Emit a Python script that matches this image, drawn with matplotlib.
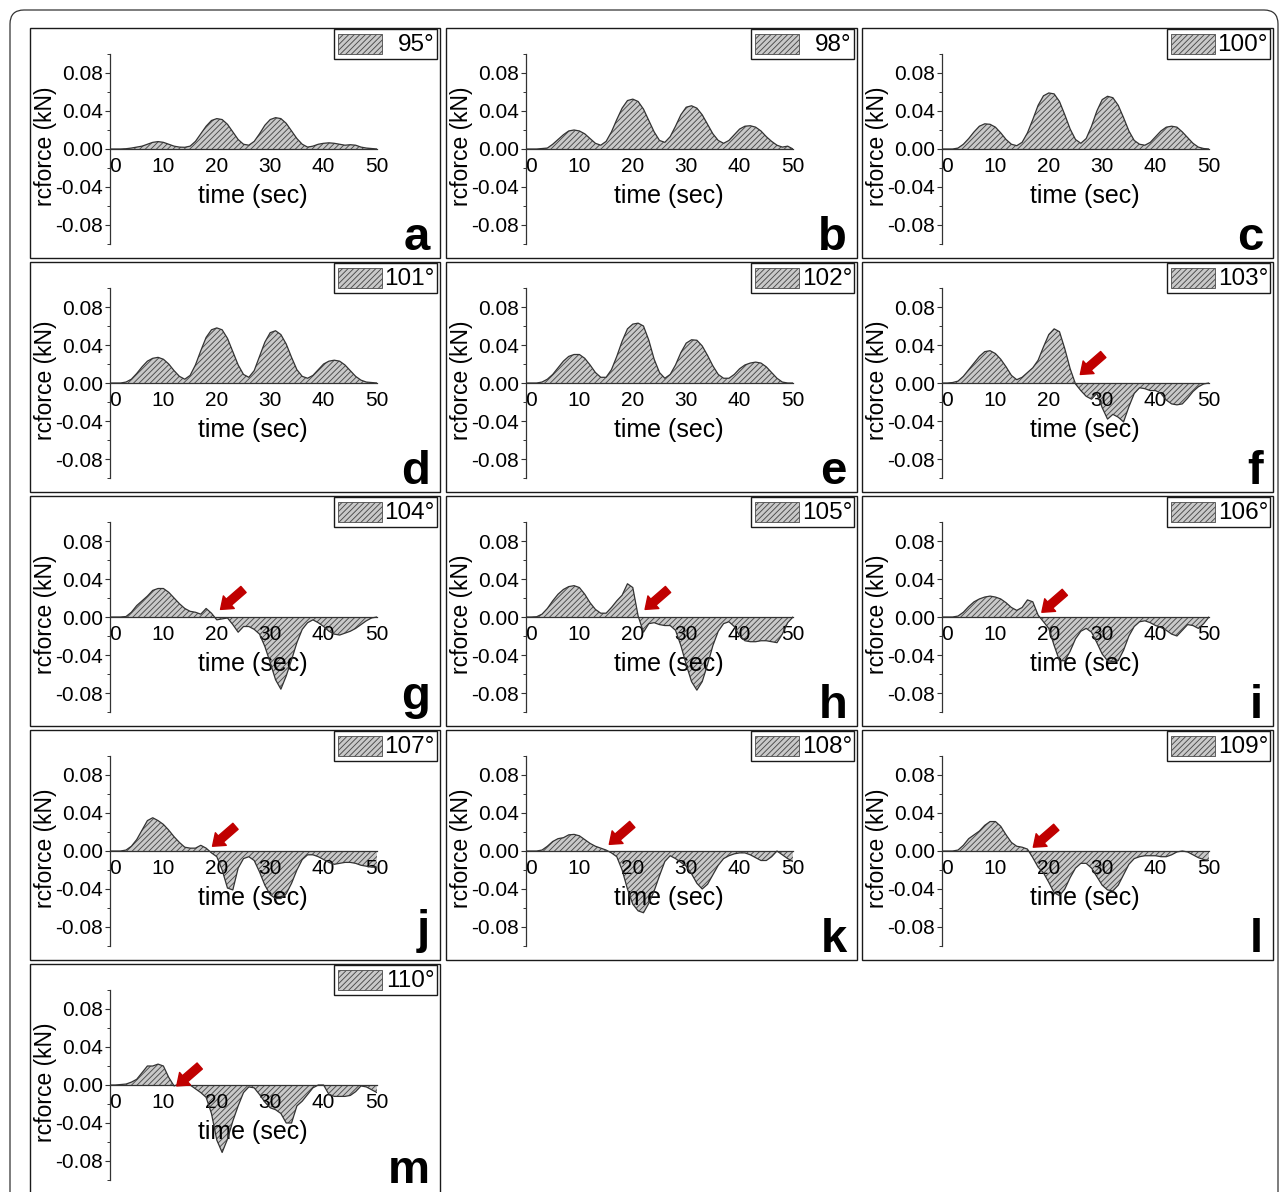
import matplotlib
matplotlib.use("Agg")
import matplotlib.pyplot as plt
from matplotlib.patches import Rectangle, FancyBboxPatch
from matplotlib.ticker import FormatStrFormatter
import matplotlib.transforms as mtransforms

plt.rcParams['font.family'] = ['Liberation Sans', 'DejaVu Sans']
plt.rcParams['axes.unicode_minus'] = False
plt.rcParams['hatch.linewidth'] = 0.65

# ---------------- data ----------------
time_sec = list(range(51))

force_95 = [0, 0, 0, 0.0003, 0.001, 0.002, 0.003, 0.005, 0.007, 0.0078,
            0.007, 0.005, 0.003, 0.002, 0.0018, 0.003, 0.008, 0.016, 0.024, 0.030,
            0.032, 0.031, 0.026, 0.018, 0.010, 0.005, 0.004, 0.008, 0.016, 0.025,
            0.031, 0.033, 0.032, 0.027, 0.019, 0.011, 0.005, 0.002, 0.003, 0.005,
            0.006, 0.0065, 0.006, 0.005, 0.004, 0.0045, 0.004, 0.002, 0.001, 0.0005,
            0]
force_98 = [0, 0, 0, 0.0005, 0.001, 0.005, 0.010, 0.015, 0.019, 0.020,
            0.019, 0.016, 0.011, 0.006, 0.004, 0.008, 0.018, 0.031, 0.043, 0.051,
            0.0525, 0.050, 0.042, 0.030, 0.018, 0.009, 0.007, 0.013, 0.024, 0.036,
            0.044, 0.0455, 0.043, 0.036, 0.026, 0.016, 0.009, 0.006, 0.009, 0.015,
            0.021, 0.024, 0.0245, 0.023, 0.019, 0.013, 0.008, 0.004, 0.002, 0.003,
            0]
force_100 = [0, 0, 0, 0.001, 0.005, 0.011, 0.018, 0.024, 0.0265, 0.026,
             0.023, 0.017, 0.010, 0.005, 0.0035, 0.007, 0.017, 0.031, 0.046, 0.056,
             0.059, 0.058, 0.050, 0.036, 0.021, 0.010, 0.006, 0.011, 0.024, 0.040,
             0.052, 0.0555, 0.054, 0.046, 0.033, 0.019, 0.009, 0.005, 0.004, 0.007,
             0.013, 0.019, 0.023, 0.024, 0.023, 0.018, 0.012, 0.006, 0.002, 0.0005,
             0]
force_101 = [0, 0, 0, 0.001, 0.004, 0.010, 0.017, 0.023, 0.026, 0.027,
             0.025, 0.020, 0.013, 0.007, 0.004, 0.008, 0.019, 0.034, 0.048, 0.056,
             0.058, 0.056, 0.047, 0.033, 0.019, 0.009, 0.006, 0.013, 0.028, 0.043,
             0.053, 0.055, 0.051, 0.041, 0.027, 0.014, 0.007, 0.005, 0.008, 0.014,
             0.020, 0.023, 0.024, 0.023, 0.019, 0.013, 0.007, 0.003, 0.001, 0.0005,
             0]
force_102 = [0, 0, 0, 0.001, 0.004, 0.009, 0.016, 0.023, 0.028, 0.030,
             0.030, 0.026, 0.019, 0.011, 0.006, 0.006, 0.014, 0.028, 0.044, 0.057,
             0.062, 0.063, 0.060, 0.045, 0.025, 0.011, 0.005, 0.009, 0.019, 0.032,
             0.042, 0.0455, 0.045, 0.039, 0.029, 0.018, 0.009, 0.005, 0.005, 0.009,
             0.015, 0.019, 0.021, 0.022, 0.021, 0.017, 0.011, 0.005, 0.001, 0,
             0]
force_103 = [0, 0, 0.0005, 0.002, 0.007, 0.014, 0.021, 0.028, 0.033, 0.034,
             0.031, 0.025, 0.017, 0.008, 0.0035, 0.006, 0.011, 0.016, 0.024, 0.038,
             0.051, 0.057, 0.054, 0.036, 0.015, -0.001, -0.008, -0.014, -0.017, -0.011,
             -0.026, -0.038, -0.033, -0.036, -0.041, -0.025, -0.011, -0.005, -0.006, -0.008,
             -0.008, -0.011, -0.018, -0.022, -0.023, -0.022, -0.016, -0.009, -0.004, -0.001,
             0]
force_104 = [0, 0, 0, 0.0005, 0.005, 0.012, 0.017, 0.022, 0.028, 0.030,
             0.030, 0.026, 0.020, 0.014, 0.009, 0.006, 0.005, 0.003, 0.009, 0.004,
             -0.003, -0.002, -0.001, -0.008, -0.016, -0.010, -0.010, -0.013, -0.018, -0.031,
             -0.048, -0.066, -0.076, -0.062, -0.045, -0.027, -0.013, -0.006, -0.003, -0.006,
             -0.010, -0.015, -0.018, -0.019, -0.017, -0.015, -0.012, -0.008, -0.004, -0.001,
             0]
force_105 = [0, 0, 0.0003, 0.003, 0.009, 0.017, 0.024, 0.029, 0.032, 0.033,
             0.031, 0.024, 0.015, 0.008, 0.004, 0.004, 0.010, 0.017, 0.023, 0.035,
             0.031, 0.001, -0.016, -0.007, -0.006, -0.008, -0.009, -0.009, -0.014, -0.030,
             -0.050, -0.068, -0.077, -0.068, -0.050, -0.030, -0.015, -0.007, -0.005, -0.010,
             -0.020, -0.025, -0.026, -0.026, -0.025, -0.025, -0.026, -0.027, -0.018, -0.006,
             0]
force_106 = [0, 0, 0, 0.001, 0.005, 0.011, 0.016, 0.019, 0.021, 0.022,
             0.021, 0.019, 0.015, 0.010, 0.007, 0.010, 0.018, 0.016, 0.002, -0.005,
             -0.012, -0.030, -0.046, -0.046, -0.036, -0.023, -0.015, -0.012, -0.016, -0.027,
             -0.039, -0.046, -0.047, -0.046, -0.035, -0.020, -0.010, -0.005, -0.004, -0.006,
             -0.009, -0.011, -0.014, -0.018, -0.020, -0.014, -0.008, -0.009, -0.012, -0.007,
             0]
force_107 = [0, 0, 0, 0.001, 0.005, 0.012, 0.022, 0.032, 0.035, 0.032,
             0.028, 0.022, 0.015, 0.009, 0.004, 0.003, 0.003, 0.006, 0.003, -0.002,
             -0.006, -0.020, -0.039, -0.041, -0.018, -0.008, -0.006, -0.010, -0.022, -0.036,
             -0.046, -0.050, -0.050, -0.045, -0.034, -0.020, -0.009, -0.004, -0.004, -0.006,
             -0.009, -0.012, -0.014, -0.013, -0.012, -0.012, -0.013, -0.015, -0.016, -0.017,
             -0.017]
force_108 = [0, 0, 0, 0.001, 0.005, 0.010, 0.013, 0.014, 0.017, 0.0175,
             0.016, 0.012, 0.008, 0.005, 0.003, 0.001, -0.002, -0.006, -0.020, -0.040,
             -0.056, -0.063, -0.065, -0.055, -0.042, -0.026, -0.011, -0.005, -0.008, -0.012,
             -0.016, -0.024, -0.034, -0.040, -0.035, -0.025, -0.015, -0.008, -0.005, -0.003,
             -0.002, -0.002, -0.004, -0.007, -0.010, -0.010, -0.006, 0.000, -0.004, -0.008,
             -0.011]
force_109 = [0, 0, 0, 0.001, 0.006, 0.013, 0.017, 0.021, 0.027, 0.031,
             0.031, 0.026, 0.017, 0.009, 0.005, 0.004, 0.002, -0.007, -0.017, -0.023,
             -0.033, -0.044, -0.047, -0.040, -0.028, -0.018, -0.013, -0.013, -0.018, -0.027,
             -0.036, -0.041, -0.042, -0.036, -0.025, -0.014, -0.008, -0.006, -0.005, -0.005,
             -0.005, -0.006, -0.006, -0.004, -0.001, 0.000, -0.001, -0.004, -0.007, -0.009,
             -0.010]
force_110 = [0, 0, 0.0005, 0.001, 0.003, 0.006, 0.013, 0.020, 0.020, 0.022,
             0.020, 0.008, -0.001, 0.001, 0.0015, 0.000, -0.004, -0.008, -0.013, -0.030,
             -0.058, -0.071, -0.057, -0.038, -0.022, -0.008, -0.002, -0.003, -0.010, -0.018,
             -0.024, -0.026, -0.030, -0.040, -0.040, -0.022, -0.017, -0.010, -0.003, 0.000,
             0.000, -0.010, -0.012, -0.012, -0.012, -0.011, -0.007, -0.001, -0.002, -0.005,
             -0.008]

angle_labels = ['95°', '98°', '100°', '101°', '102°', '103°', '104°',
                '105°', '106°', '107°', '108°', '109°', '110°']
panel_letters = ['a', 'b', 'c', 'd', 'e', 'f', 'g', 'h', 'i', 'j', 'k', 'l', 'm']
series = [force_95, force_98, force_100, force_101, force_102, force_103, force_104,
          force_105, force_106, force_107, force_108, force_109, force_110]

# red arrow head positions (time, force) per panel; None = no arrow
arrow_heads = [None, None, None, None, None,
               (25.9, 0.009), (20.7, 0.008), (22.3, 0.008), (18.7, 0.005),
               (19.2, 0.005), (15.6, 0.007), (17.1, 0.004), (12.5, -0.001)]

y_major = [-0.08, -0.04, 0.0, 0.04, 0.08]
y_minor = [-0.1, -0.06, -0.02, 0.02, 0.06, 0.1]
x_ticks = [0, 10, 20, 30, 40, 50]

# ---------------- layout ----------------
W, H = 1281, 1192
fig = plt.figure(figsize=(W / 100, H / 100), dpi=100)
fig.patch.set_facecolor('white')


def frac_rect(x0, y0, x1, y1):
    return [x0 / W, 1 - y1 / H, (x1 - x0) / W, (y1 - y0) / H]


# outer rounded frame
frame = FancyBboxPatch((0.10, -0.40), 12.68, 12.22,
                       boxstyle="round,pad=0,rounding_size=0.14",
                       transform=fig.dpi_scale_trans, facecolor='none',
                       edgecolor='#333333', linewidth=0.9)
fig.add_artist(frame)

col_left = [30, 446, 862]
col_right = [440, 857, 1273]
fill_face = '#c9c9c9'
hatch_col = '#4a4a4a'

for i, (vals, lab, letter, arr) in enumerate(zip(series, angle_labels, panel_letters, arrow_heads)):
    row, col = divmod(i, 3)
    bl, br = col_left[col], col_right[col]
    bt = 28 + 234 * row
    bb = bt + 230

    # panel box
    fig.add_artist(Rectangle((bl / W, 1 - bb / H), (br - bl) / W, (bb - bt) / H,
                             transform=fig.transFigure, facecolor='none',
                             edgecolor='#1a1a1a', linewidth=1.0))

    ax = fig.add_axes(frac_rect(bl + 80, bt + 26, bl + 347, bt + 216))
    ax.patch.set_alpha(0)
    ax.fill_between(time_sec, 0, vals, facecolor=fill_face, edgecolor=hatch_col,
                    hatch='//////', linewidth=0)
    ax.plot(time_sec, vals, color='#333333', linewidth=0.9)
    ax.set_xlim(0, 50)
    ax.set_ylim(-0.1, 0.1)
    for s in ('top', 'right'):
        ax.spines[s].set_visible(False)
    ax.spines['bottom'].set_position(('data', 0))
    for s in ('bottom', 'left'):
        ax.spines[s].set_color('#333333')
        ax.spines[s].set_linewidth(0.9)
    ax.set_yticks(y_major)
    ax.set_yticks(y_minor, minor=True)
    ax.yaxis.set_major_formatter(FormatStrFormatter('%.2f'))
    ax.set_xticks(x_ticks)
    ax.tick_params(axis='y', which='major', direction='out', length=3.5, width=0.8,
                   pad=1.5, labelsize=15, color='#333333')
    ax.tick_params(axis='y', which='minor', direction='out', length=2.2, width=0.7,
                   color='#333333')
    ax.tick_params(axis='x', length=0, pad=6, labelsize=15)
    # the "0" label sits just right of the y axis in the reference
    first = ax.get_xticklabels()[0]
    first.set_transform(first.get_transform() +
                        mtransforms.ScaledTranslation(5 / 100, 0, fig.dpi_scale_trans))

    ax.set_xlabel('time (sec)', fontsize=18)
    ax.xaxis.set_label_coords(0.536, 0.253)
    ax.xaxis.label.set_va('center')
    ax.set_ylabel('rcforce (kN)', fontsize=16.5)
    ax.yaxis.set_label_coords(-0.243, 0.514)
    ax.yaxis.label.set_va('center')

    if arr is not None:
        hx, hy = arr
        ax.annotate('', xy=(hx, hy), xytext=(hx + 4.3, hy + 0.021),
                    arrowprops=dict(arrowstyle='simple,head_length=0.66,head_width=1.0,tail_width=0.48',
                                    mutation_scale=12, color='#c00000',
                                    shrinkA=0, shrinkB=0), zorder=6)

    # legend box (manual, fixed size as in the reference)
    ll, lr = br - 106, br - 3
    lt, lb = bt + 1, bt + 31
    fig.add_artist(Rectangle((ll / W, 1 - lb / H), (lr - ll) / W, (lb - lt) / H,
                             transform=fig.transFigure, facecolor='white',
                             edgecolor='#1a1a1a', linewidth=1.0))
    fig.add_artist(Rectangle(((ll + 4) / W, 1 - (lt + 25) / H), 44 / W, 20 / H,
                             transform=fig.transFigure, facecolor=fill_face,
                             edgecolor=hatch_col, hatch='//////', linewidth=0.6))
    fig.text((br - 5) / W, 1 - (lt + 16) / H, lab, ha='right', va='center',
             fontsize=17.5)

    # panel letter
    off = 17 if letter in ('g', 'j') else (11 if letter == 'm' else 8)
    fig.text((br - 10) / W, 1 - (bb - off) / H, letter, ha='right', va='baseline',
             fontsize=34, fontweight='bold',
             family=['Liberation Sans Narrow', 'Liberation Sans', 'DejaVu Sans'])

fig.savefig('out.png', dpi=100, facecolor='white')
